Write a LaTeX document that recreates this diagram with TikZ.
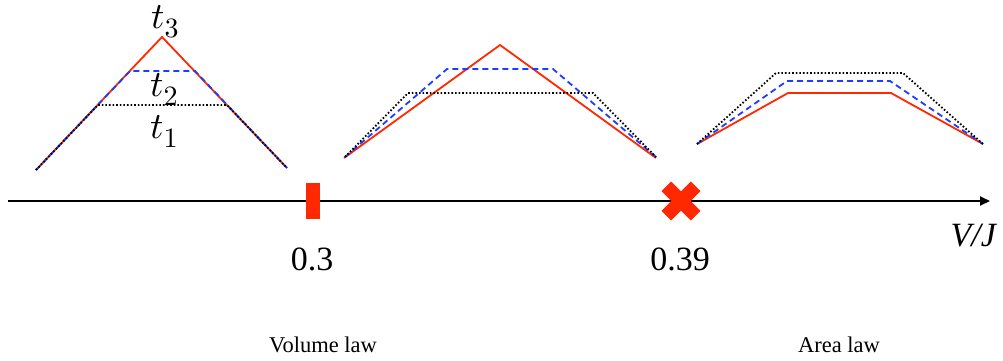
\documentclass[tikz,border=0pt]{standalone}
\usepackage[no-math]{fontspec}
\setmainfont{Liberation Serif}
\DeclareFontFamily{OML}{cmm}{\skewchar\font'177}
\DeclareFontShape{OML}{cmm}{m}{it}{<->cmmi10}{}
\DeclareFontFamily{OT1}{cmr}{\hyphenchar\font45}
\DeclareFontShape{OT1}{cmr}{m}{n}{<->cmr10}{}
\DeclareMathSizes{37}{37}{28}{20}
\usetikzlibrary{arrows.meta,calc}
\definecolor{cred}{RGB}{255,40,0}
\definecolor{cblue}{RGB}{30,60,255}
\tikzset{
  redline/.style={draw=cred, line width=1.8pt, line join=miter},
  blueline/.style={draw=cblue, line width=1.8pt, dash pattern=on 6pt off 4pt},
  blackline/.style={draw=black, line width=1.8pt, dash pattern=on 1.6pt off 2pt},
  axisline/.style={draw=black, line width=1.8pt, -{Triangle[length=10pt,width=9pt]}},
  biglabel/.style={inner sep=0pt, anchor=base, font=\fontsize{34}{40}\selectfont},
  tlabel/.style={inner sep=0pt, anchor=base west, font=\fontsize{37}{44}\selectfont},
  lawlabel/.style={inner sep=0pt, anchor=base, font=\fontsize{22.5}{27}\selectfont},
}
\begin{document}
\begin{tikzpicture}[x=1pt,y=-1pt]
\useasboundingbox (0,0) rectangle (1003,360);
% axis
\coordinate (ax0) at (8,201);
\coordinate (ax1) at (990,201);
\draw[axisline] (ax0) -- (ax1);
% triangle 1
\draw[redline] (36,170) -- (162,37) -- (287,168);
\draw[blueline] (36,170) -- (130,71) -- (195,71) -- (287,168);
\draw[blackline] (36,170) -- (98,105) -- (227,105) -- (287,168);
% triangle 2
\draw[redline] (344,158) -- (500,45) -- (656,158);
\draw[blueline] (345,157) -- (447,69) -- (553,69) -- (656,157);
\draw[blackline] (345,157) -- (408,93) -- (593,93) -- (656,157);
% triangle 3
\draw[redline] (697,144) -- (788,93) -- (891,93) -- (983,144);
\draw[blueline] (697,144) -- (787,81) -- (890,81) -- (983,144);
\draw[blackline] (697,144) -- (776,73) -- (903,73) -- (983,144);
% markers
\fill[cred] (306,183) rectangle (320,219);
\coordinate (cx) at (681,201);
\draw[cred, line width=13.5pt] ($(cx)+(-14.7,-14.7)$) -- ($(cx)+(14.7,14.7)$);
\draw[cred, line width=13.5pt] ($(cx)+(-14.7,14.7)$) -- ($(cx)+(14.7,-14.7)$);
% labels
\node[tlabel] (t3) at (151,28) {$t_3$};
\node[tlabel] (t2) at (150,96) {$t_2$};
\node[tlabel] (t1) at (150,138) {$t_1$};
\node[biglabel] (l03) at (312,270) {0.3};
\node[biglabel] (l039) at (680,270) {0.39};
\node[biglabel] (vj) at (974,246) {\textit{V/J}};
\node[lawlabel] (vol) at (323,352) {Volume law};
\node[lawlabel] (area) at (839,352) {Area law};
\end{tikzpicture}
\end{document}
